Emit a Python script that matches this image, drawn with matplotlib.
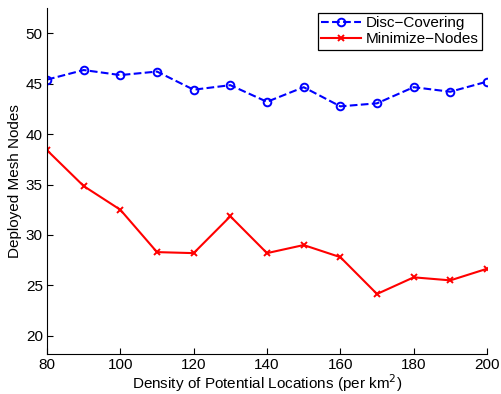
import matplotlib
matplotlib.use("Agg")
import matplotlib.pyplot as plt

density = [80, 90, 100, 110, 120, 130, 140, 150, 160, 170, 180, 190, 200]
disc_covering = [45.4, 46.35, 45.85, 46.2, 44.4, 44.85, 43.2, 44.65, 42.75, 43.05, 44.65, 44.2, 45.2]
minimize_nodes = [38.4, 34.85, 32.5, 28.3, 28.2, 31.85, 28.2, 29.0, 27.8, 24.15, 25.8, 25.5, 26.65]

plt.rcParams['font.family'] = ['Liberation Sans', 'DejaVu Sans']
plt.rcParams['font.size'] = 11

fig = plt.figure(figsize=(5.01, 3.94), dpi=100)
ax = fig.add_axes([47/501, 40/394, 440/501, 346/394])

ax.plot(density, disc_covering, '--o', color='blue', lw=1.5, ms=5.5,
        mfc='none', mew=1.4, label='Disc\u2212Covering')
ax.plot(density, minimize_nodes, '-x', color='red', lw=1.5, ms=4,
        mew=1.4, label='Minimize\u2212Nodes')

ax.set_xlim(80, 200)
ax.set_ylim(18.2, 52.5)
ax.set_xticks(range(80, 201, 20))
ax.set_yticks(range(20, 51, 5))
ax.spines['top'].set_visible(False)
ax.spines['right'].set_visible(False)
ax.tick_params(direction='in', length=4, width=0.8, labelsize=11, pad=3)
ax.set_xlabel('Density of Potential Locations (per km$^2$)', fontsize=11, labelpad=0)
ax.set_ylabel('Deployed Mesh Nodes', fontsize=11, labelpad=3)

leg = ax.legend(loc='upper right', fancybox=False, edgecolor='black',
                framealpha=1, borderpad=0.25, handlelength=2.6,
                handletextpad=0.3, labelspacing=0.1, fontsize=11,
                borderaxespad=0.3, bbox_to_anchor=(1.0, 1.0))
leg.get_frame().set_linewidth(0.9)

fig.savefig('out.png', dpi=100)
